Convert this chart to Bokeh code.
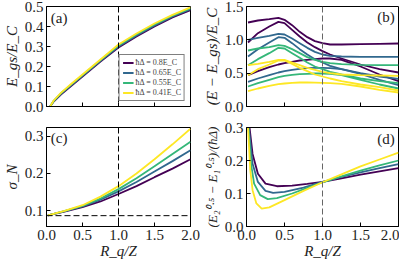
from bokeh.plotting import figure
from bokeh.layouts import gridplot
from bokeh.models import Range1d, Span, Label, FixedTicker, NumeralTickFormatter, CustomJSTickFormatter, Legend, LegendItem
from bokeh.embed import file_html
from bokeh.resources import INLINE

# ---------------- data ----------------
colors = ["#440154", "#31688e", "#35b779", "#fde725"]
labels = ["ħΔ = 0.8E_C", "ħΔ = 0.65E_C", "ħΔ = 0.55E_C", "ħΔ = 0.41E_C"]

# panel (a): ground-state energy
Ra = [0.05, 0.1, 0.2, 0.35, 0.5, 0.75, 1.0, 1.25, 1.5, 1.75, 2.0]
Ea_purple = [0.0, 0.025, 0.060, 0.105, 0.150, 0.225, 0.295, 0.350, 0.400, 0.445, 0.482]
Ea_blue = [0.0, 0.027, 0.063, 0.108, 0.153, 0.228, 0.300, 0.355, 0.405, 0.450, 0.487]
Ea_green = [0.0, 0.028, 0.066, 0.112, 0.157, 0.232, 0.305, 0.360, 0.410, 0.454, 0.491]
Ea_yellow = [0.0, 0.030, 0.068, 0.115, 0.160, 0.235, 0.310, 0.365, 0.415, 0.458, 0.496]

# panel (b): excitation energies (three levels per colour)
Rb = [0.02, 0.15, 0.3, 0.42, 0.5, 0.6, 0.7, 0.8, 0.9, 1.0, 1.1, 1.25, 1.5, 1.75, 2.0]
Eb_purple_1 = [1.26, 1.29, 1.31, 1.33, 1.30, 1.22, 1.12, 1.04, 0.98, 0.95, 0.93, 0.93, 0.935, 0.94, 0.945]
Eb_purple_2 = [0.96, 1.10, 1.20, 1.27, 1.25, 1.15, 1.05, 0.96, 0.89, 0.83, 0.78, 0.72, 0.63, 0.56, 0.51]
Eb_purple_3 = [0.47, 0.53, 0.59, 0.63, 0.65, 0.67, 0.69, 0.70, 0.71, 0.72, 0.72, 0.70, 0.60, 0.48, 0.38]
Eb_blue_1 = [1.00, 1.03, 1.06, 1.09, 1.08, 1.02, 0.95, 0.88, 0.82, 0.78, 0.76, 0.75, 0.745, 0.745, 0.745]
Eb_blue_2 = [0.75, 0.86, 0.96, 1.04, 1.03, 0.95, 0.86, 0.78, 0.71, 0.66, 0.61, 0.56, 0.50, 0.45, 0.415]
Eb_blue_3 = [0.37, 0.42, 0.47, 0.51, 0.53, 0.55, 0.565, 0.575, 0.58, 0.58, 0.575, 0.56, 0.49, 0.40, 0.32]
Eb_green_1 = [0.84, 0.87, 0.89, 0.92, 0.91, 0.86, 0.80, 0.74, 0.70, 0.67, 0.65, 0.635, 0.625, 0.62, 0.62]
Eb_green_2 = [0.62, 0.71, 0.80, 0.88, 0.87, 0.80, 0.73, 0.66, 0.60, 0.56, 0.52, 0.48, 0.42, 0.38, 0.35]
Eb_green_3 = [0.30, 0.35, 0.40, 0.44, 0.46, 0.475, 0.485, 0.49, 0.495, 0.495, 0.49, 0.47, 0.40, 0.33, 0.27]
Eb_yellow_1 = [0.62, 0.64, 0.67, 0.70, 0.70, 0.66, 0.62, 0.58, 0.55, 0.52, 0.50, 0.48, 0.47, 0.465, 0.46]
Eb_yellow_2 = [0.47, 0.56, 0.63, 0.69, 0.69, 0.64, 0.58, 0.53, 0.48, 0.45, 0.42, 0.38, 0.33, 0.29, 0.24]
Eb_yellow_3 = [0.23, 0.27, 0.31, 0.335, 0.345, 0.355, 0.36, 0.36, 0.358, 0.355, 0.35, 0.34, 0.30, 0.25, 0.21]

# panel (c): charge fluctuations
Rc = [0.02, 0.25, 0.5, 0.75, 1.0, 1.25, 1.5, 1.75, 2.0]
sig_purple = [0.088, 0.098, 0.110, 0.125, 0.145, 0.166, 0.190, 0.213, 0.238]
sig_blue = [0.088, 0.099, 0.112, 0.130, 0.152, 0.177, 0.205, 0.233, 0.262]
sig_green = [0.088, 0.099, 0.113, 0.133, 0.158, 0.187, 0.219, 0.252, 0.285]
sig_yellow = [0.088, 0.100, 0.115, 0.138, 0.166, 0.200, 0.238, 0.278, 0.320]
sig_ref = 0.087

# panel (d): level spacing
Rd_purple = [0.03, 0.04, 0.08, 0.15, 0.25, 0.4, 0.6, 0.8, 1.0, 1.25, 1.5, 1.75, 2.0]
Ed_purple = [0.34, 0.30, 0.22, 0.16, 0.13, 0.122, 0.124, 0.129, 0.135, 0.146, 0.157, 0.167, 0.177]
Rd_blue = [0.02, 0.03, 0.08, 0.15, 0.25, 0.35, 0.5, 0.75, 1.0, 1.25, 1.5, 1.75, 2.0]
Ed_blue = [0.36, 0.30, 0.19, 0.135, 0.108, 0.102, 0.105, 0.118, 0.135, 0.150, 0.164, 0.177, 0.189]
Rd_green = [0.015, 0.025, 0.06, 0.1, 0.18, 0.28, 0.4, 0.6, 0.8, 1.0, 1.25, 1.5, 1.75, 2.0]
Ed_green = [0.36, 0.30, 0.19, 0.13, 0.095, 0.083, 0.086, 0.100, 0.117, 0.134, 0.152, 0.169, 0.185, 0.200]
Rd_yellow = [0.012, 0.02, 0.05, 0.08, 0.13, 0.2, 0.3, 0.5, 0.75, 1.0, 1.25, 1.5, 1.75, 2.0]
Ed_yellow = [0.40, 0.30, 0.17, 0.11, 0.07, 0.054, 0.058, 0.080, 0.108, 0.134, 0.158, 0.182, 0.203, 0.224]

x_ticks = [0, 0.5, 1.0, 1.5, 2.0]
R_mark = 1.0

# ---------------- styling helpers ----------------
FONT = "Liberation Serif"
TICK_PX = "15px"
LABEL_PX = "15px"


def make_fig(w, h, ylo, yhi, yticks, bl, br, bt, bb, show_x):
    p = figure(width=w, height=h, x_range=Range1d(0, 2), y_range=Range1d(ylo, yhi),
               output_backend="svg", toolbar_location=None,
               min_border_left=bl, min_border_right=br, min_border_top=bt, min_border_bottom=bb)
    p.grid.visible = False
    p.outline_line_color = "black"
    p.outline_line_width = 1
    p.background_fill_color = "white"
    p.border_fill_color = "white"
    for ax in (p.xaxis[0], p.yaxis[0]):
        ax.major_tick_in = 4
        ax.major_tick_out = 0
        ax.minor_tick_in = 0
        ax.minor_tick_out = 0
        ax.axis_line_color = "black"
        ax.major_tick_line_color = "black"
        ax.major_label_text_font = FONT
        ax.major_label_text_font_size = TICK_PX
        ax.major_label_text_color = "#222222"
        ax.axis_label_text_font = FONT
        ax.axis_label_text_font_size = LABEL_PX
        ax.axis_label_text_font_style = "italic"
        ax.axis_label_text_color = "#222222"
    p.xaxis.ticker = FixedTicker(ticks=x_ticks)
    p.yaxis.ticker = FixedTicker(ticks=yticks)
    p.yaxis.formatter = NumeralTickFormatter(format="0.0")
    if show_x:
        p.xaxis.formatter = NumeralTickFormatter(format="0.0")
        p.xaxis.axis_label = "R_q/Z"
        p.xaxis.major_label_standoff = 3
        p.xaxis.axis_label_standoff = 0
    else:
        p.xaxis.formatter = CustomJSTickFormatter(code="return ''")
        p.xaxis.major_label_standoff = 0
    p.yaxis.major_label_standoff = 3
    p.yaxis.axis_label_standoff = 2
    return p


def panel_label(p, text, x, y, align):
    p.add_layout(Label(x=x, y=y, text=text, text_font=FONT, text_font_size="15px",
                       text_align=align, text_baseline="top", text_color="#222222"))


LW = 1.8

# ---------------- (a) ----------------
pa = make_fig(200, 117, 0.0, 0.5, [0.0, 0.1, 0.2, 0.3, 0.4, 0.5], 34, 10, 6, 11, False)
pa.yaxis.axis_label = "E_gs/E_C"
pa.add_layout(Span(location=R_mark, dimension="height", line_color="black", line_dash="6 3", line_width=1))
items = []
for ys, c, lab in zip([Ea_purple, Ea_blue, Ea_green, Ea_yellow], colors, labels):
    r = pa.line(Ra, ys, line_color=c, line_width=LW)
    items.append(LegendItem(label=lab, renderers=[r]))
leg = Legend(items=items, location="bottom_right", label_text_font=FONT, label_text_font_size="8px",
             label_height=7, glyph_height=7, glyph_width=11, spacing=1, padding=3, margin=5,
             label_standoff=2, border_line_color="black", border_line_width=1,
             background_fill_alpha=1.0)
pa.add_layout(leg)
panel_label(pa, "(a)", 0.06, 0.485, "left")

# ---------------- (b) ----------------
pb = make_fig(199, 117, 0.0, 1.5, [0.0, 0.5, 1.0, 1.5], 43, 1, 6, 11, False)
pb.yaxis.axis_label = "(E − E_gs)/E_C"
pb.add_layout(Span(location=R_mark, dimension="height", line_color="#666666", line_dash="6 3", line_width=1))
groups_b = [
    [Eb_purple_1, Eb_purple_2, Eb_purple_3],
    [Eb_blue_1, Eb_blue_2, Eb_blue_3],
    [Eb_green_1, Eb_green_2, Eb_green_3],
    [Eb_yellow_1, Eb_yellow_2, Eb_yellow_3],
]
for grp, c in zip(groups_b, colors):
    for ys in grp:
        pb.line(Rb, ys, line_color=c, line_width=LW)
panel_label(pb, "(b)", 1.95, 1.46, "right")

# ---------------- (c) ----------------
pc = make_fig(200, 144, 0.058, 0.323, [0.1, 0.2, 0.3], 34, 10, 10, 26, True)
pc.yaxis.axis_label = "σ_N"
pc.add_layout(Span(location=R_mark, dimension="height", line_color="black", line_dash="6 3", line_width=1))
pc.add_layout(Span(location=sig_ref, dimension="width", line_color="black", line_dash="6 3", line_width=1))
for ys, c in zip([sig_purple, sig_blue, sig_green, sig_yellow], colors):
    pc.line(Rc, ys, line_color=c, line_width=LW)
panel_label(pc, "(c)", 0.06, 0.317, "left")

# ---------------- (d) ----------------
pd_ = make_fig(199, 144, 0.0, 0.3, [0.0, 0.1, 0.2, 0.3], 43, 1, 10, 26, True)
pd_.yaxis.axis_label = "(E₂⁰·⁵ − E₁⁰·⁵)/(ħΔ)"
pd_.yaxis.axis_label_text_font_size = "13px"
pd_.add_layout(Span(location=R_mark, dimension="height", line_color="#666666", line_dash="6 3", line_width=1))
for xs, ys, c in zip([Rd_purple, Rd_blue, Rd_green, Rd_yellow],
                     [Ed_purple, Ed_blue, Ed_green, Ed_yellow], colors):
    pd_.line(xs, ys, line_color=c, line_width=LW)
panel_label(pd_, "(d)", 1.95, 0.289, "right")

grid = gridplot([[pa, pb], [pc, pd_]], toolbar_location=None)

open("out.html", "w").write(file_html(grid, INLINE))
